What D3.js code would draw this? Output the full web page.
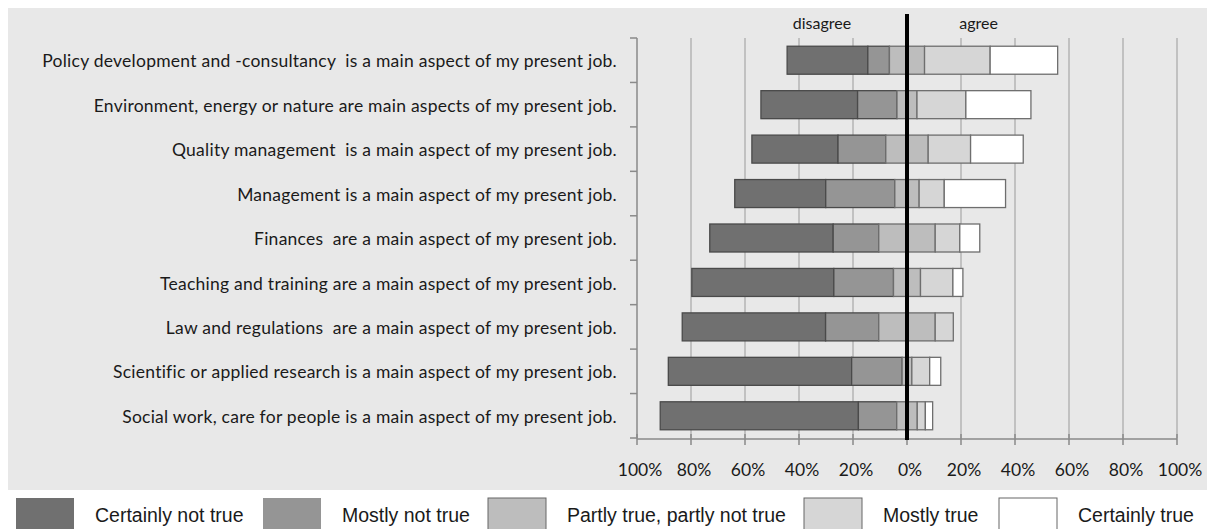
<!DOCTYPE html>
<html>
<head>
<meta charset="utf-8">
<script src="https://cdn.jsdelivr.net/npm/d3@7"></script>
<style>
  body { margin: 0; background: #fff; }
  svg text { white-space: pre; }
</style>
</head>
<body>
<svg id="chart" width="1207" height="529"></svg>
<script>
  // statements, top to bottom
  var categories = [
    'Policy development and -consultancy  is a main aspect of my present job.',
    'Environment, energy or nature are main aspects of my present job.',
    'Quality management  is a main aspect of my present job.',
    'Management is a main aspect of my present job.',
    'Finances  are a main aspect of my present job.',
    'Teaching and training are a main aspect of my present job.',
    'Law and regulations  are a main aspect of my present job.',
    'Scientific or applied research is a main aspect of my present job.',
    'Social work, care for people is a main aspect of my present job.'
  ];

  // percentages per answer
  var certainlyNotTrue = [29.9, 35.8, 31.9, 33.7, 45.7, 52.6, 53.1, 67.9, 73.4];
  var mostlyNotTrue    = [8.0, 14.6, 17.7, 25.6, 16.9, 22.1, 19.7, 18.7, 14.2];
  var partlyTrue       = [13.0, 7.4, 15.7, 9.0, 20.9, 10.0, 20.9, 3.6, 7.6];
  var mostlyTrue       = [24.3, 18.1, 15.7, 9.3, 9.1, 12.0, 6.7, 6.6, 3.0];
  var certainlyTrue    = [25.0, 24.1, 19.5, 22.7, 7.4, 3.7, 0, 4.1, 2.7];

  var seriesNames = ['Certainly not true', 'Mostly not true', 'Partly true, partly not true', 'Mostly true', 'Certainly true'];
  var seriesColors = ['#707070', '#959595', '#bdbdbd', '#d6d6d6', '#ffffff'];
  var xTicks = [-100, -80, -60, -40, -20, 0, 20, 40, 60, 80, 100];

  var series = [certainlyNotTrue, mostlyNotTrue, partlyTrue, mostlyTrue, certainlyTrue];

  var svg = d3.select('#chart');

  // grey panel
  svg.append('rect')
    .attr('x', 8).attr('y', 8)
    .attr('width', 1199).attr('height', 482)
    .attr('fill', '#e8e8e8');

  var x = d3.scaleLinear().domain([-100, 100]).range([637, 1177]);
  var y = d3.scaleBand().domain(categories).range([38, 438]).paddingInner(0.37).paddingOuter(0.185);
  var yEdges = d3.scaleBand().domain(categories).range([38, 438]);

  // vertical gridlines
  svg.append('g').selectAll('line')
    .data(xTicks.filter(function (t) { return t !== -100; }))
    .enter().append('line')
    .attr('x1', function (d) { return x(d); })
    .attr('x2', function (d) { return x(d); })
    .attr('y1', 38).attr('y2', 438)
    .attr('stroke', '#b4b4b4')
    .attr('stroke-width', 1.5);

  // build segments: neutral split half on each side of zero
  var segments = [];
  categories.forEach(function (c, i) {
    var start = -(certainlyNotTrue[i] + mostlyNotTrue[i] + partlyTrue[i] / 2);
    series.forEach(function (s, k) {
      var v = s[i];
      if (v > 0) {
        segments.push({ cat: c, k: k, x0: start, x1: start + v });
      }
      start += v;
    });
  });

  svg.append('g').selectAll('rect')
    .data(segments)
    .enter().append('rect')
    .attr('x', function (d) { return x(d.x0); })
    .attr('width', function (d) { return x(d.x1) - x(d.x0); })
    .attr('y', function (d) { return y(d.cat); })
    .attr('height', y.bandwidth())
    .attr('fill', function (d) { return seriesColors[d.k]; })
    .attr('stroke', function (d) { return d.k < 2 ? '#4a4a4a' : '#6e6e6e'; })
    .attr('stroke-width', 1.3);

  // left axis (Excel style: ticks at category edges)
  var axisColor = '#8a8a8a';
  svg.append('line')
    .attr('x1', 637).attr('x2', 637)
    .attr('y1', 38).attr('y2', 438)
    .attr('stroke', axisColor).attr('stroke-width', 1.5);

  var edgeVals = categories.map(function (c) { return yEdges(c); }).concat([438]);
  svg.append('g').selectAll('line')
    .data(edgeVals)
    .enter().append('line')
    .attr('x1', 630).attr('x2', 637)
    .attr('y1', function (d) { return d; })
    .attr('y2', function (d) { return d; })
    .attr('stroke', axisColor).attr('stroke-width', 1.5);

  svg.append('g').selectAll('text')
    .data(categories)
    .enter().append('text')
    .attr('x', 617)
    .attr('y', function (d) { return y(d) + y.bandwidth() / 2 + 1; })
    .attr('dy', '0.35em')
    .attr('text-anchor', 'end')
    .attr('font-family', 'Lato, sans-serif')
    .attr('font-size', 17.5)
    .attr('letter-spacing', 0.25)
    .attr('fill', '#1a1a1a')
    .text(function (d) { return d; });

  // bottom axis
  svg.append('line')
    .attr('x1', 637).attr('x2', 1177)
    .attr('y1', 439).attr('y2', 439)
    .attr('stroke', axisColor).attr('stroke-width', 1.5);

  svg.append('g').selectAll('line')
    .data(xTicks)
    .enter().append('line')
    .attr('x1', function (d) { return x(d); })
    .attr('x2', function (d) { return x(d); })
    .attr('y1', 434).attr('y2', 445)
    .attr('stroke', axisColor).attr('stroke-width', 1.5);

  svg.append('g').selectAll('text')
    .data(xTicks)
    .enter().append('text')
    .attr('x', function (d) { return x(d) + 3; })
    .attr('y', 470)
    .attr('dy', '0.35em')
    .attr('text-anchor', 'middle')
    .attr('font-family', 'Lato, sans-serif')
    .attr('font-size', 17.5)
    .attr('fill', '#1a1a1a')
    .text(function (d) { return Math.abs(d) + '%'; });

  // zero line
  svg.append('line')
    .attr('x1', x(0)).attr('x2', x(0))
    .attr('y1', 14).attr('y2', 440)
    .attr('stroke', '#000').attr('stroke-width', 4);

  svg.append('text')
    .attr('x', x(-31.5)).attr('y', 23)
    .attr('dy', '0.35em')
    .attr('text-anchor', 'middle')
    .attr('font-family', 'Lato, sans-serif')
    .attr('font-size', 16)
    .attr('fill', '#1a1a1a')
    .text('disagree');

  svg.append('text')
    .attr('x', x(26.5)).attr('y', 23)
    .attr('dy', '0.35em')
    .attr('text-anchor', 'middle')
    .attr('font-family', 'Lato, sans-serif')
    .attr('font-size', 16)
    .attr('fill', '#1a1a1a')
    .text('agree');

  // legend
  var legendX = [16, 263, 488, 804, 999];
  var legend = svg.append('g').selectAll('g')
    .data(seriesNames)
    .enter().append('g')
    .attr('transform', function (d, i) { return 'translate(' + legendX[i] + ',498)'; });

  legend.append('rect')
    .attr('width', 58).attr('height', 40)
    .attr('fill', function (d, i) { return seriesColors[i]; })
    .attr('stroke', function (d, i) { return i < 2 ? 'none' : '#666'; })
    .attr('stroke-width', 1);

  legend.append('text')
    .attr('x', 79)
    .attr('y', 17)
    .attr('dy', '0.35em')
    .attr('font-family', '"Liberation Sans", Arial, sans-serif')
    .attr('font-size', 19.5)
    .attr('fill', '#1a1a1a')
    .text(function (d) { return d; });
</script>
</body>
</html>
